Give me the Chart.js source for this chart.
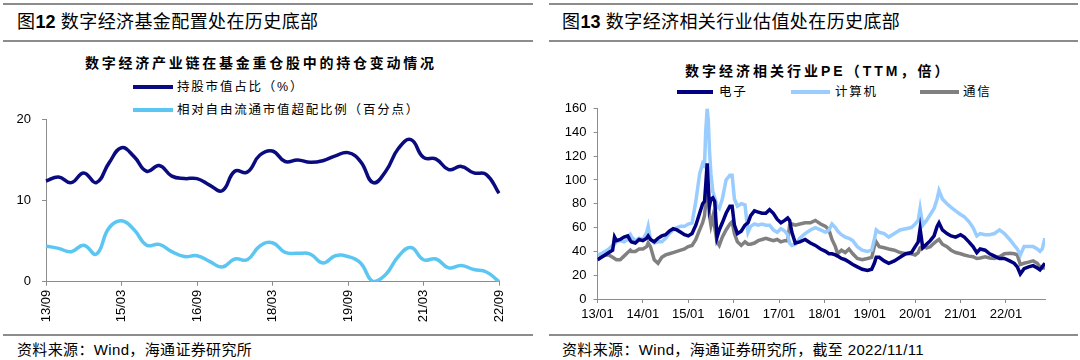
<!DOCTYPE html>
<html>
<head>
<meta charset="utf-8">
<script src="https://cdn.jsdelivr.net/npm/chart.js@4.4.1/dist/chart.umd.min.js"></script>
<style>
  body { margin: 0; width: 1080px; height: 360px; background: #fff; position: relative; overflow: hidden;
         font-family: "Liberation Sans", "Noto Sans CJK SC", sans-serif; color: #000; }
  .rule { position: absolute; height: 2px; background: #8c8c8c; }
  .t { position: absolute; white-space: nowrap; }
  .title { font-size: 18px; line-height: 18px; letter-spacing: 0.4px; }
  .title b { font-family: "Liberation Sans", Arial, sans-serif; letter-spacing: 0; }
  .ctitle { font-size: 14px; line-height: 14px; font-weight: bold; }
  .leg { font-size: 12.5px; line-height: 12px; letter-spacing: 1.8px; }
  .sw { position: absolute; height: 4px; }
  .src { font-size: 15px; line-height: 15px; letter-spacing: 0.35px; }
  .box { position: absolute; }
</style>
</head>
<body>
<!-- left panel -->
<div class="rule" style="left:3px; width:530px; top:3px;"></div>
<div class="t title" style="left:17px; top:13px;">图<b>12</b> 数字经济基金配置处在历史底部</div>
<div class="rule" style="left:3px; width:530px; top:40px;"></div>
<div class="t ctitle" style="left:85px; top:56px; letter-spacing:2.75px;">数字经济产业链在基金重仓股中的持仓变动情况</div>
<div class="sw" style="left:133px; width:40px; top:85px; background:#0b0b80;"></div>
<div class="t leg" style="left:177px; top:81px;">持股市值占比（%）</div>
<div class="sw" style="left:133px; width:40px; top:108px; background:#5cc6f2;"></div>
<div class="t leg" style="left:177px; top:104px;">相对自由流通市值超配比例（百分点）</div>
<div class="box" style="left:0; top:110px;"><canvas id="fundChart" width="540" height="222"></canvas></div>
<div class="rule" style="left:3px; width:530px; top:334px;"></div>
<div class="t src" style="left:17px; top:342px;">资料来源：Wind，海通证券研究所</div>

<!-- right panel -->
<div class="rule" style="left:549px; width:529px; top:3px;"></div>
<div class="t title" style="left:562px; top:13px;">图<b>13</b> 数字经济相关行业估值处在历史底部</div>
<div class="rule" style="left:549px; width:529px; top:40px;"></div>
<div class="t ctitle" style="left:685px; top:64px; letter-spacing:3px;">数字经济相关行业PE（TTM，倍）</div>
<div class="sw" style="left:677px; width:36px; top:90px; background:#000080;"></div>
<div class="t leg" style="left:719px; top:86px;">电子</div>
<div class="sw" style="left:791px; width:39px; top:90px; background:#99ccff;"></div>
<div class="t leg" style="left:835px; top:86px;">计算机</div>
<div class="sw" style="left:920px; width:39px; top:90px; background:#808080;"></div>
<div class="t leg" style="left:963px; top:86px;">通信</div>
<div class="box" style="left:540px; top:100px;"><canvas id="peChart" width="540" height="232"></canvas></div>
<div class="rule" style="left:549px; width:529px; top:334px;"></div>
<div class="t src" style="left:562px; top:342px;">资料来源：Wind，海通证券研究所，截至 2022/11/11</div>

<script>
// Left chart: quarterly fund holdings
const quarterLabels = ["13/09", "13/12", "14/03", "14/06", "14/09", "14/12", "15/03", "15/06", "15/09", "15/12",
    "16/03", "16/06", "16/09", "16/12", "17/03", "17/06", "17/09", "17/12", "18/03", "18/06",
    "18/09", "18/12", "19/03", "19/06", "19/09", "19/12", "20/03", "20/06", "20/09", "20/12",
    "21/03", "21/06", "21/09", "21/12", "22/03", "22/06", "22/09"];
const holdShare = [12.4, 12.9, 12.2, 13.4, 12.2, 14.6, 16.5, 15.4, 13.6, 14.3,
    13.0, 12.7, 12.7, 11.9, 11.2, 13.6, 13.5, 15.6, 16.1, 14.8,
    15.0, 14.7, 14.9, 15.5, 15.9, 14.8, 12.2, 13.6, 16.4, 17.5,
    15.3, 15.1, 13.8, 14.2, 13.4, 13.2, 10.9];
const overweight = [4.4, 4.1, 3.7, 4.5, 3.4, 6.6, 7.5, 6.4, 4.5, 4.6,
    3.7, 3.1, 3.2, 2.5, 1.8, 2.8, 2.7, 4.4, 4.8, 3.6,
    3.5, 3.4, 2.3, 3.2, 3.1, 2.3, 0.0, 0.9, 3.1, 4.2,
    2.7, 2.8, 1.7, 2.0, 1.5, 1.2, 0.0];
const quarterTickIdx = [0, 6, 12, 18, 24, 30, 36];

// Right chart: PE (TTM), x = months since 2013/01
const peMonth = [0, 1, 2, 3, 4, 4.5, 5, 6, 7, 8,
    8.7, 9, 10, 11, 12, 13, 13.4, 14, 15, 16,
    17, 18, 19, 20, 21, 22, 23, 24, 25, 26,
    27, 27.8, 28.3, 28.6, 29, 29.3, 29.6, 30, 30.5, 31,
    31.6, 32.2, 33, 34, 35, 35.6, 36.2, 37, 38, 39,
    39.8, 40.5, 41.5, 42.5, 43.5, 44.5, 45.5, 46.5, 47.5, 48.5,
    49.5, 50.3, 50.8, 51.4, 52.3, 53.5, 54.9, 56.3, 57.6, 59,
    60.3, 61.2, 62, 62.9, 63.5, 64.5, 65.5, 66.5, 67.5, 68.7,
    70, 71.4, 72.5, 73.2, 73.7, 74.5, 75.8, 77, 78.5, 80,
    81.5, 83, 84, 84.8, 85.3, 86, 87, 88, 89, 89.8,
    90.3, 91.2, 92.4, 93.5, 94.7, 96, 97, 98.2, 99.3, 100.3,
    101.2, 102.5, 103.7, 105, 106.3, 107.6, 109, 110.2, 111, 111.8,
    112.8, 114, 115.2, 116.3, 117, 117.6, 118.3];
const peElectronics = [33, 35, 37, 39, 41, 52, 49, 50, 52, 53,
    49, 48, 47, 50, 49, 51, 53, 50, 48, 51,
    53, 54, 57, 59, 58, 56, 54, 53, 55, 62,
    72, 80, 82, 95, 114, 95, 78, 84, 85, 82,
    52, 58, 64, 72, 78, 78, 62, 55, 57, 62,
    64, 70, 74, 73, 72, 72, 75, 72, 67, 64,
    66, 68, 66, 56, 47, 48, 50, 47, 45, 42,
    40, 38, 38, 37, 36, 34, 33, 31, 29, 27,
    25, 24, 25, 30, 35, 35, 32, 30, 32, 35,
    38, 39, 44, 48, 59, 43, 46, 49, 53, 61,
    64, 58, 55, 53, 52, 54, 52, 48, 44, 39,
    42, 41, 38, 36, 34, 34, 32, 30, 27, 21,
    25.5, 27, 28, 26, 24.5, 27, 30];
const peComputer = [37, 38, 40, 42, 45, 46, 48, 49, 48, 50,
    54, 52, 49, 51, 50, 56, 61, 50, 47, 48,
    48, 51, 55, 58, 60, 61, 61, 63, 64, 82,
    105, 114, 112, 140, 160, 150, 125, 105, 90, 85,
    78, 76, 84, 100, 104, 104, 84, 78, 80, 79,
    56, 61, 63, 62, 63, 62, 62, 58, 56, 59,
    57, 54, 47, 45, 46, 51, 55, 58, 60, 58,
    56, 58, 63, 60, 57, 54, 52, 51, 49, 44,
    41, 40, 41, 50, 58, 56, 55, 52, 55, 58,
    59, 60, 63, 66, 76, 62, 66, 71, 76, 84,
    91, 84, 80, 77, 74, 71, 69, 65, 60, 53,
    55, 54, 54, 55, 58, 55, 50, 45, 42, 37,
    44, 44, 44, 42, 40, 42, 51];
const peTelecom = [33, 35, 37, 37, 35, 34, 33, 33, 36, 39,
    41, 40, 40, 42, 42, 44, 47, 44, 33, 30,
    35, 37, 38, 39, 40, 41, 42, 44, 45, 50,
    58, 64, 70, 80, 96, 85, 70, 62, 69, 60,
    48, 45, 52, 58, 63, 65, 55, 48, 45, 48,
    46, 46, 47, 49, 50, 51, 50, 49, 50, 48,
    49, 49, 62, 63, 62, 63, 64, 64, 66, 63,
    61, 58, 50, 44, 38, 41, 39, 42, 38, 34,
    33, 34, 35, 44, 48, 44, 43, 42, 41, 39,
    38, 38, 37, 39, 43, 44, 43, 44, 47, 49,
    50, 46, 44, 41, 39, 38, 37, 36, 35.5, 34,
    34.5, 35.5, 34.5, 34, 35.5, 38, 38.5, 38, 37, 29,
    30, 31, 32, 30, 27, 26, 26];
const peTickLabels = ["13/01", "14/01", "15/01", "16/01", "17/01", "18/01", "19/01", "20/01", "21/01", "22/01"];
const peEndMonth = 118.33;

const axisColor = "#8c8c8c";
const tickFont = { family: "'Liberation Sans', Arial, sans-serif", size: 13 };

// y axis: fixed width, no extra label overhang so layout padding decides the top
const fixYAxis = (width) => (s) => { s.width = width; s.paddingTop = 0; s.paddingBottom = 0; };

// fund holding chart
new Chart(document.getElementById("fundChart"), {
    type: "line",
    data: {
        labels: quarterLabels,
        datasets: [{
            label: "持股市值占比（%）",
            data: holdShare,
            borderColor: "#0b0b80",
            borderWidth: 3.5,
            tension: 0.45,
            pointRadius: 0,
        }, {
            label: "相对自由流通市值超配比例（百分点）",
            data: overweight,
            borderColor: "#5cc6f2",
            borderWidth: 3.5,
            tension: 0.45,
            pointRadius: 0,
        }]
    },
    options: {
        responsive: false,
        animation: false,
        devicePixelRatio: 1,
        layout: { padding: { left: 10, right: 41, top: 9.3, bottom: 4.3 } },
        plugins: { legend: { display: false }, tooltip: { enabled: false } },
        scales: {
            x: {
                offset: false,
                afterBuildTicks: (axis) => { axis.ticks = quarterTickIdx.map(v => ({ value: v })); },
                afterFit: (s) => { s.height = 46; },
                grid: { drawOnChartArea: false, tickLength: 4, color: axisColor },
                border: { color: axisColor },
                ticks: {
                    autoSkip: false, minRotation: 90, maxRotation: 90, padding: 4,
                    color: "#000", font: tickFont,
                    callback: (v) => quarterLabels[v],
                },
            },
            y: {
                min: 0, max: 20,
                afterFit: fixYAxis(36),
                grid: { drawOnChartArea: false, tickLength: 4, color: axisColor },
                border: { color: axisColor },
                ticks: { stepSize: 10, padding: 11, color: "#000", font: tickFont },
            },
        },
    },
});

// PE chart
const toPoints = (arr) => peMonth.map((m, i) => ({ x: m, y: arr[i] }));

new Chart(document.getElementById("peChart"), {
    type: "line",
    data: {
        datasets: [{
            label: "电子",
            data: toPoints(peElectronics),
            borderColor: "#000080",
            borderWidth: 3.5,
            pointRadius: 0,
            tension: 0,
        }, {
            label: "计算机",
            data: toPoints(peComputer),
            borderColor: "#99ccff",
            borderWidth: 3.5,
            pointRadius: 0,
            tension: 0,
        }, {
            label: "通信",
            data: toPoints(peTelecom),
            borderColor: "#808080",
            borderWidth: 3.5,
            pointRadius: 0,
            tension: 0,
        }]
    },
    options: {
        responsive: false,
        animation: false,
        devicePixelRatio: 1,
        layout: { padding: { left: 10, right: 35, top: 8.5, bottom: 4 } },
        plugins: { legend: { display: false }, tooltip: { enabled: false } },
        scales: {
            x: {
                type: "linear",
                min: 0, max: peEndMonth,
                afterBuildTicks: (axis) => { axis.ticks = peTickLabels.map((_, i) => ({ value: i * 12 })); },
                afterFit: (s) => { s.height = 29; },
                grid: { drawOnChartArea: false, tickLength: 4, color: axisColor },
                border: { color: axisColor },
                ticks: {
                    autoSkip: false, maxRotation: 0, padding: 4, color: "#000", font: tickFont,
                    callback: (v, i) => peTickLabels[i],
                },
            },
            y: {
                min: 0, max: 160,
                afterFit: fixYAxis(47.5),
                grid: { drawOnChartArea: false, tickLength: 4, color: axisColor },
                border: { color: axisColor },
                ticks: { stepSize: 20, padding: 7, color: "#000", font: tickFont },
            },
        },
    },
});
</script>
</body>
</html>
